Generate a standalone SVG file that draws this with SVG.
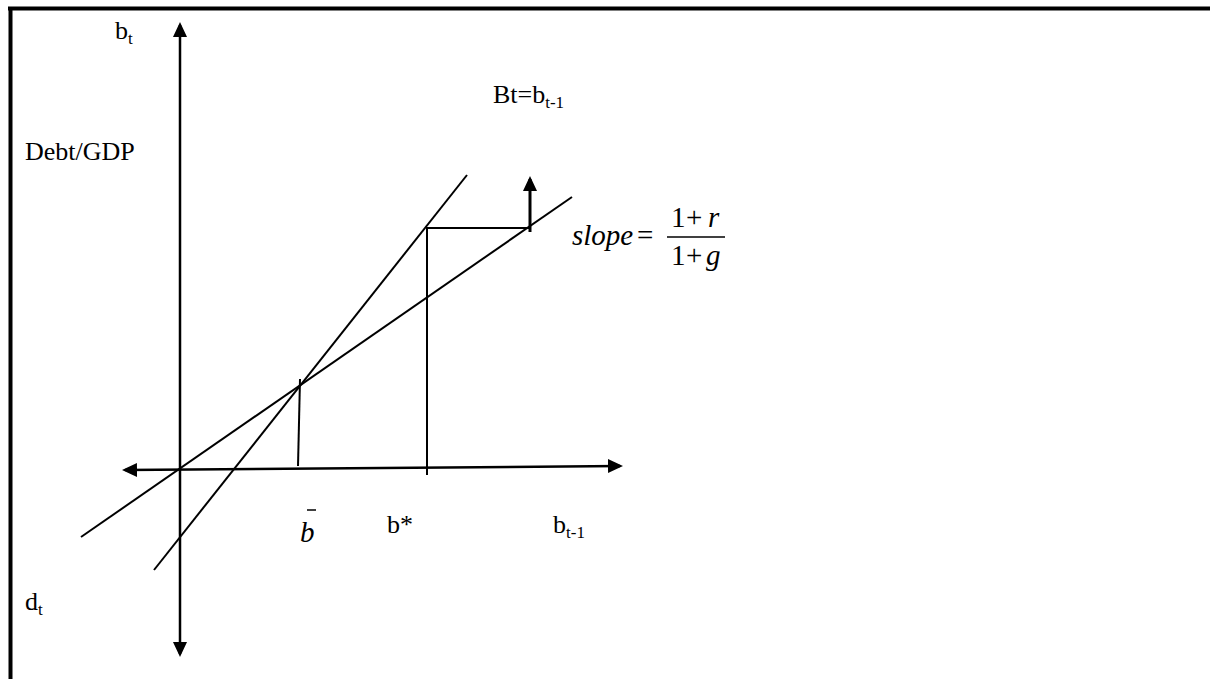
<svg xmlns="http://www.w3.org/2000/svg" width="1210" height="679" viewBox="0 0 1210 679">
<style>
.t{font-family:"Liberation Serif","Times New Roman",serif;font-size:26px;fill:#000}
.m{font-family:"Liberation Serif","Times New Roman",serif;font-size:29px;fill:#000}
.i{font-style:italic}
.ax{stroke:#000;stroke-width:2.5;fill:none}
.ln{stroke:#000;stroke-width:2;fill:none}
</style>
<defs>
<marker id="ah" markerUnits="userSpaceOnUse" markerWidth="16" markerHeight="16" refX="12" refY="7" orient="auto-start-reverse">
<path d="M0,0 L15,7 L0,14 Z" fill="#000"/>
</marker>
</defs>
<rect width="1210" height="679" fill="#fff"/>
<g id="frame">
<line x1="8" y1="8.5" x2="1210" y2="8.5" stroke="#000" stroke-width="4"/>
<line x1="10.5" y1="7" x2="10.5" y2="679" stroke="#000" stroke-width="4"/>
</g>
<g id="axes">
<line class="ax" x1="180" y1="25" x2="180" y2="654" marker-start="url(#ah)" marker-end="url(#ah)"/>
<line class="ax" x1="125" y1="470" x2="620" y2="466" marker-start="url(#ah)" marker-end="url(#ah)"/>
</g>
<g id="connectors">
<line class="ln" x1="81" y1="537" x2="572" y2="197"/>
<line class="ln" x1="154" y1="570" x2="467" y2="175"/>
<line class="ln" x1="300" y1="379" x2="298" y2="466"/>
<line class="ln" x1="427" y1="228" x2="427" y2="475"/>
<line class="ln" x1="426" y1="228" x2="531" y2="228"/>
<line x1="530" y1="232" x2="530" y2="179" stroke="#000" stroke-width="3" marker-end="url(#ah)"/>
</g>
<g id="labels">
<text class="t" x="115" y="39">b<tspan font-size="17" dy="5">t</tspan></text>
<text class="t" x="493" y="103">Bt=b<tspan font-size="17" dy="5">t-1</tspan></text>
<text class="t" x="25" y="160">Debt/GDP</text>
<text class="t" x="25" y="610">d<tspan font-size="17" dy="5">t</tspan></text>
<text class="t" x="387" y="533">b*</text>
<text class="t" x="553" y="533">b<tspan font-size="17" dy="5">t-1</tspan></text>
</g>
<g id="bbar">
<text class="m i" x="300" y="542">b</text>
<line x1="307" y1="510" x2="316" y2="510" stroke="#000" stroke-width="1.5"/>
</g>
<g id="slope">
<text class="m i" x="572" y="245">slope</text>
<text class="m" x="637" y="245">=</text>
<line x1="667" y1="237" x2="725" y2="237" stroke="#000" stroke-width="1.5"/>
<text class="m" x="671" y="227">1</text>
<text class="m" x="686" y="227">+</text>
<text class="m i" x="708" y="227">r</text>
<text class="m" x="671" y="265">1</text>
<text class="m" x="686" y="265">+</text>
<text class="m i" x="706" y="265">g</text>
</g>
</svg>
